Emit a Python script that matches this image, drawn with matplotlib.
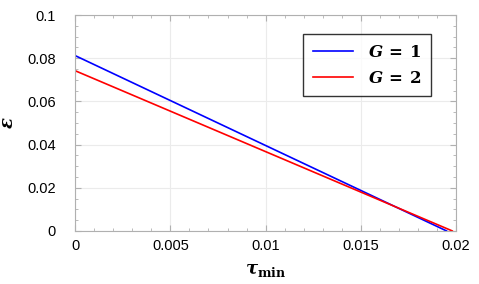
import matplotlib
matplotlib.use("Agg")
import matplotlib.pyplot as plt

plt.rcParams['font.family'] = ['Liberation Sans', 'DejaVu Sans']
plt.rcParams['mathtext.fontset'] = 'custom'
plt.rcParams['mathtext.rm'] = 'DejaVu Serif:bold'
plt.rcParams['mathtext.it'] = 'DejaVu Serif:italic:bold'
plt.rcParams['mathtext.bf'] = 'DejaVu Serif:bold'

# data: straight lines, endpoints
tau_g1 = [0.0, 0.0195]
eps_g1 = [0.0812, 0.0]
tau_g2 = [0.0, 0.0198]
eps_g2 = [0.0742, 0.0]

x_ticks = [0, 0.005, 0.01, 0.015, 0.02]
x_labels = ['0', '0.005', '0.01', '0.015', '0.02']
y_ticks = [0, 0.02, 0.04, 0.06, 0.08, 0.1]
y_labels = ['0', '0.02', '0.04', '0.06', '0.08', '0.1']
x_minor = [i * 0.001 for i in range(21)]
y_minor = [i * 0.005 for i in range(21)]

fig = plt.figure(figsize=(4.79, 2.84), dpi=100)
ax = fig.add_axes([0.157, 0.187, 0.795, 0.76])

ax.plot(tau_g1, eps_g1, color='#0000ff', lw=1.2,
        label=r'$\mathit{G}\,\mathbf{=}\,\mathbf{1}$')
ax.plot(tau_g2, eps_g2, color='#ff0000', lw=1.2,
        label=r'$\mathit{G}\,\mathbf{=}\,\mathbf{2}$')

ax.set_xlim(0, 0.02)
ax.set_ylim(0, 0.1)
ax.set_xticks(x_ticks, x_labels)
ax.set_yticks(y_ticks, y_labels)
ax.set_xticks(x_minor, minor=True)
ax.set_yticks(y_minor, minor=True)

ax.grid(True, which='major', color='#ebebeb', lw=0.8)
for s in ax.spines.values():
    s.set_color('#b0b0b0')
ax.tick_params(which='both', direction='in', top=True, right=True,
               color='#b0b0b0', labelsize=10.5)
ax.tick_params(which='major', length=4)
ax.tick_params(which='minor', length=2.5)
ax.tick_params(axis='y', pad=14)
ax.tick_params(axis='x', pad=6)

ax.set_xlabel(r'$\mathit{\tau}_{\mathbf{min}}$', fontsize=13, labelpad=6)
ax.set_ylabel(r'$\mathit{\varepsilon}$', fontsize=13, labelpad=7)

leg = ax.legend(loc='upper right', bbox_to_anchor=(0.934, 0.912), fontsize=12,
                frameon=True, fancybox=False, edgecolor='black',
                handlelength=2.4, borderpad=0.6, labelspacing=0.6,
                borderaxespad=0, handletextpad=0.9)
leg.get_frame().set_linewidth(1.0)

fig.savefig('out.png', dpi=100)
